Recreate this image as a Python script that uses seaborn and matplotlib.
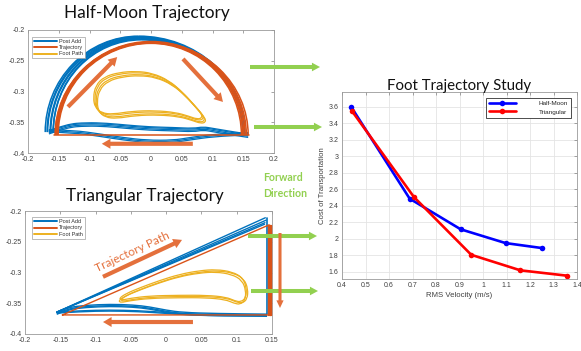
import numpy as np
import pandas as pd
import matplotlib
matplotlib.use("Agg")
import matplotlib.pyplot as plt
from matplotlib.path import Path
from matplotlib.patches import PathPatch, Arc
from matplotlib.ticker import FormatStrFormatter, MultipleLocator
import seaborn as sns

# ---------------- data ----------------
# Foot trajectory study: cost of transportation vs RMS velocity
hm_velocity = [0.439, 0.688, 0.905, 1.096, 1.253]
hm_cost = [3.60, 2.488, 2.117, 1.950, 1.889]
tri_velocity = [0.443, 0.706, 0.950, 1.159, 1.358]
tri_cost = [3.547, 2.508, 1.808, 1.620, 1.555]
series_names = ["Half-Moon", "Triangular"]

# Half-moon: commanded trajectory arcs (centre x, left radius, right radius, height)
hm_traj_cx = [0.000, 0.000, 0.000, 0.000, 0.000, 0.000]
hm_traj_rl = [0.151, 0.152, 0.153, 0.154, 0.155, 0.156]
hm_traj_rr = [0.147, 0.149, 0.151, 0.153, 0.155, 0.158]
hm_traj_ry = [0.149, 0.150, 0.150, 0.151, 0.152, 0.151]
hm_traj_base = -0.3707
hm_traj_bottom_x = [-0.157, 0.159]

# Half-moon: measured (post add) arcs
hm_post_cx = [-0.018, -0.017, -0.020, -0.016, -0.021, -0.019, -0.018]
hm_post_rl = [0.150, 0.146, 0.152, 0.143, 0.148, 0.145, 0.141]
hm_post_rr = [0.170, 0.168, 0.172, 0.166, 0.171, 0.169, 0.167]
hm_post_ry = [0.154, 0.152, 0.156, 0.150, 0.155, 0.153, 0.151]
hm_post_base = -0.366
# Half-moon: measured bottom strokes
hm_up_x = [-0.166, -0.137, -0.105, -0.072, -0.040, -0.002, 0.036, 0.069, 0.085, 0.101, 0.134, 0.158]
hm_up_y = [-0.365, -0.3545, -0.352, -0.353, -0.356, -0.359, -0.360, -0.3615, -0.3588, -0.3615, -0.367, -0.3707]
hm_up_dy = [0.000, -0.002, -0.004, 0.0015]
hm_lo_x = [-0.166, -0.126, -0.083, -0.045, -0.007, 0.036, 0.063, 0.101, 0.158]
hm_lo_y = [-0.366, -0.367, -0.373, -0.3789, -0.3832, -0.3832, -0.3789, -0.3734, -0.3707]
hm_lo_dy = [0.000, 0.002, 0.004]
# Half-moon: foot path loop
hm_foot_x = [-0.092, -0.088, -0.074, -0.050, -0.023, 0.004, 0.031, 0.053, 0.072, 0.084,
             0.085, 0.077, 0.063, 0.042, 0.009, -0.029, -0.060, -0.078, -0.089]
hm_foot_y = [-0.312, -0.292, -0.278, -0.271, -0.269, -0.272, -0.284, -0.303, -0.324, -0.338,
             -0.345, -0.347, -0.342, -0.336, -0.333, -0.334, -0.339, -0.337, -0.328]
hm_foot_dx = [0.000, 0.002, 0.004, -0.002]
hm_foot_dy = [0.000, -0.003, -0.005, 0.002]

# Triangular: commanded trajectory
tri_traj_x = [-0.147, 0.146, 0.146, -0.147]
tri_traj_y = [-0.369, -0.2225, -0.369, -0.369]
tri_traj_right_x = [0.1445, 0.1455, 0.1465, 0.1475, 0.1485]
# Triangular: measured hypotenuse tops
tri_post_left = (-0.155, -0.3645)
tri_post_top_x = [0.1405, 0.1415, 0.1400, 0.1395]
tri_post_top_y = [-0.2110, -0.2150, -0.2190, -0.2215]
tri_post_right_x = 0.1425
# Triangular: measured bottom strokes
tri_up_x = [-0.155, -0.141, -0.113, -0.080, -0.047, -0.023, 0.000, 0.024, 0.071, 0.143]
tri_up_y = [-0.3645, -0.357, -0.3532, -0.3516, -0.3527, -0.3559, -0.3613, -0.365, -0.3667, -0.3677]
tri_up_dy = [0.000, -0.002, -0.0035]
tri_lo_x = [-0.155, -0.120, -0.080, -0.040, 0.000, 0.040, 0.080, 0.143]
tri_lo_y = [-0.3645, -0.362, -0.361, -0.362, -0.365, -0.368, -0.369, -0.369]
tri_lo_dy = [0.000, -0.0015]
# Triangular: foot path loop
tri_foot_x = [-0.0667, -0.0563, -0.0375, -0.0092, 0.019, 0.047, 0.071, 0.094, 0.1086, 0.114,
              0.113, 0.106, 0.097, 0.085, 0.057, 0.019, -0.023, -0.051, -0.063]
tri_foot_y = [-0.342, -0.334, -0.325, -0.313, -0.303, -0.297, -0.295, -0.299, -0.3086, -0.325,
              -0.341, -0.348, -0.346, -0.340, -0.337, -0.337, -0.338, -0.342, -0.345]
tri_foot_dx = [0.000, 0.002, -0.001]
tri_foot_dy = [0.000, -0.002, -0.004]

legend_labels = ["Post Add", "Trajectory", "Foot Path"]

# ---------------- style ----------------
sns.set_style("white")
plt.rcParams["font.family"] = ["Liberation Sans", "DejaVu Sans"]

BLUE = "#0072BD"
ORANGE = "#D95319"
YELLOW = "#EDB120"
ARROW_OR = "#E4703C"
GREEN = "#92D050"
TXT = "#404040"
SPINE = "#9a9a9a"

W, H = 581, 351
fig = plt.figure(figsize=(W / 100, H / 100), dpi=100)


def px_axes(left, top, right, bottom):
    return fig.add_axes([left / W, 1 - bottom / H, (right - left) / W, (bottom - top) / H])


def smooth_path(xs, ys, closed=False):
    pts = np.column_stack([xs, ys])
    n = len(pts)
    if closed:
        mids = (pts + np.roll(pts, -1, axis=0)) / 2
        verts = [mids[-1]]
        codes = [Path.MOVETO]
        for i in range(n):
            verts += [pts[i], mids[i]]
            codes += [Path.CURVE3, Path.CURVE3]
    else:
        verts = [pts[0]]
        codes = [Path.MOVETO]
        for i in range(1, n - 1):
            verts += [pts[i], (pts[i] + pts[i + 1]) / 2]
            codes += [Path.CURVE3, Path.CURVE3]
        verts.append(pts[-1])
        codes.append(Path.LINETO)
    return Path(verts, codes)


def add_curve(ax, xs, ys, color, lw, closed=False, z=2):
    ax.add_patch(PathPatch(smooth_path(xs, ys, closed), fill=False, ec=color, lw=lw, zorder=z))


def style_matlab(ax):
    for s in ax.spines.values():
        s.set_color(SPINE)
        s.set_linewidth(0.6)
    ax.tick_params(direction="in", length=2.5, width=0.5, color="#808080",
                   top=True, right=True, labelsize=5.0, labelcolor=TXT, pad=2.5)
    ax.xaxis.set_major_formatter(FormatStrFormatter("%g"))
    ax.yaxis.set_major_formatter(FormatStrFormatter("%g"))


def arrow(ax, start, end, color, tail=0.30, hw=0.72, hl=0.62, z=6):
    ax.annotate("", xy=end, xytext=start, zorder=z,
                arrowprops=dict(arrowstyle=f"simple,head_length={hl},head_width={hw},tail_width={tail}",
                                fc=color, ec="none", lw=0, shrinkA=0, shrinkB=0, mutation_scale=10))


def path_legend(ax, anchor):
    handles = [plt.Line2D([], [], color=c, lw=1.4) for c in (BLUE, ORANGE, YELLOW)]
    leg = ax.legend(handles, legend_labels, loc="upper left", bbox_to_anchor=anchor,
                    fontsize=4.0, handlelength=4.2, handletextpad=0.3, labelspacing=0.25,
                    borderpad=0.35, borderaxespad=0, fancybox=False, framealpha=1,
                    edgecolor="#a0a0a0")
    leg.get_frame().set_linewidth(0.5)
    for t in leg.get_texts():
        t.set_color("#303030")


# ---------------- half-moon panel ----------------
ax1 = px_axes(28, 30, 274, 153)
style_matlab(ax1)
ax1.set_xlim(-0.2, 0.2)
ax1.set_ylim(-0.4, -0.2)
ax1.xaxis.set_major_locator(MultipleLocator(0.05))
ax1.yaxis.set_major_locator(MultipleLocator(0.05))

for cx, rl, rr, ry in zip(hm_post_cx, hm_post_rl, hm_post_rr, hm_post_ry):
    ax1.add_patch(Arc((cx, hm_post_base), 2 * rl, 2 * ry, theta1=90, theta2=180, ec=BLUE, lw=1.1, zorder=2))
    ax1.add_patch(Arc((cx, hm_post_base), 2 * rr, 2 * ry, theta1=0, theta2=90, ec=BLUE, lw=1.1, zorder=2))
for dy in hm_up_dy:
    add_curve(ax1, hm_up_x, np.array(hm_up_y) + dy, BLUE, 0.9)
for dy in hm_lo_dy:
    add_curve(ax1, hm_lo_x, np.array(hm_lo_y) + dy, BLUE, 0.9)
for cx, rl, rr, ry in zip(hm_traj_cx, hm_traj_rl, hm_traj_rr, hm_traj_ry):
    ax1.add_patch(Arc((cx, hm_traj_base), 2 * rl, 2 * ry, theta1=90, theta2=180, ec=ORANGE, lw=1.1, zorder=3))
    ax1.add_patch(Arc((cx, hm_traj_base), 2 * rr, 2 * ry, theta1=0, theta2=90, ec=ORANGE, lw=1.1, zorder=3))
ax1.plot(hm_traj_bottom_x, [hm_traj_base, hm_traj_base], color=ORANGE, lw=1.1, zorder=3)
for dx, dy in zip(hm_foot_dx, hm_foot_dy):
    add_curve(ax1, np.array(hm_foot_x) + dx, np.array(hm_foot_y) + dy, YELLOW, 0.9, closed=True, z=4)

arrow(ax1, (-0.135, -0.325), (-0.055, -0.244), ARROW_OR)
arrow(ax1, (0.052, -0.247), (0.117, -0.317), ARROW_OR)
arrow(ax1, (0.068, -0.385), (-0.080, -0.385), ARROW_OR)
path_legend(ax1, (0.016, 0.945))

# ---------------- triangular panel ----------------
ax2 = px_axes(25, 211, 272, 334)
style_matlab(ax2)
ax2.set_xlim(-0.2, 0.15)
ax2.set_ylim(-0.4, -0.2)
ax2.xaxis.set_major_locator(MultipleLocator(0.05))
ax2.yaxis.set_major_locator(MultipleLocator(0.05))

for tx, ty in zip(tri_post_top_x, tri_post_top_y):
    ax2.plot([tri_post_left[0], tx], [tri_post_left[1], ty], color=BLUE, lw=1.0, zorder=2)
ax2.plot([tri_post_right_x, tri_post_right_x], [tri_post_top_y[0], -0.368], color=BLUE, lw=1.2, zorder=2)
for dy in tri_up_dy:
    add_curve(ax2, tri_up_x, np.array(tri_up_y) + dy, BLUE, 1.0)
for dy in tri_lo_dy:
    add_curve(ax2, tri_lo_x, np.array(tri_lo_y) + dy, BLUE, 1.0)
ax2.plot(tri_traj_x, tri_traj_y, color=ORANGE, lw=1.0, zorder=3)
for rx in tri_traj_right_x:
    ax2.plot([rx, rx], [tri_traj_y[1], tri_traj_y[2]], color=ORANGE, lw=1.0, zorder=3, clip_on=False)
for dx, dy in zip(tri_foot_dx, tri_foot_dy):
    add_curve(ax2, np.array(tri_foot_x) + dx, np.array(tri_foot_y) + dy, YELLOW, 0.9, closed=True, z=4)

arrow(ax2, (-0.0895, -0.307), (0.0225, -0.247), ARROW_OR)
arrow(ax2, (0.038, -0.3805), (-0.0895, -0.3805), ARROW_OR)
ax2.text(-0.048, -0.266, "Trajectory Path", color=ARROW_OR, fontsize=8.6, rotation=25,
         ha="center", va="center", family=["Lato", "DejaVu Sans"], zorder=6)
path_legend(ax2, (0.028, 0.95))

# ---------------- study panel ----------------
ax3 = px_axes(342, 92, 577, 279)
df = pd.DataFrame({
    "RMS Velocity (m/s)": hm_velocity + tri_velocity,
    "Cost of Transportation": hm_cost + tri_cost,
    "Shape": [series_names[0]] * len(hm_velocity) + [series_names[1]] * len(tri_velocity),
})
sns.lineplot(data=df, x="RMS Velocity (m/s)", y="Cost of Transportation", hue="Shape",
             palette={series_names[0]: "#0000ff", series_names[1]: "#ff0000"},
             marker="o", markersize=4, markeredgewidth=0, linewidth=1.9, sort=False, ax=ax3)
style_matlab(ax3)
ax3.set_xlim(0.4, 1.4)
ax3.set_ylim(1.515, 3.78)
ax3.xaxis.set_major_locator(MultipleLocator(0.1))
ax3.set_yticks([1.6, 1.8, 2.0, 2.2, 2.4, 2.6, 2.8, 3.0, 3.2, 3.4, 3.6])
ax3.grid(True, color="#e4e4e4", lw=0.6)
ax3.set_axisbelow(True)
ax3.set_xlabel("RMS Velocity (m/s)", fontsize=5.6, color=TXT, labelpad=2)
ax3.set_ylabel("Cost of Transportation", fontsize=5.6, color=TXT, labelpad=2)
sns.move_legend(ax3, "upper right", bbox_to_anchor=(0.975, 0.968), title=None, fontsize=4.6,
                handlelength=4.2, handletextpad=3.6, labelspacing=0.45, borderpad=0.45,
                borderaxespad=0, fancybox=False, framealpha=1, edgecolor="#303030")
ax3.get_legend().get_frame().set_linewidth(0.6)

# ---------------- titles and annotations ----------------
TITLE_FONT = ["Lato", "DejaVu Sans"]
fig.text(147 / W, 1 - 18 / H, "Half-Moon Trajectory", ha="center", va="baseline",
         fontsize=12.4, family=TITLE_FONT, color="#111111")
fig.text(145 / W, 1 - 201 / H, "Triangular Trajectory", ha="center", va="baseline",
         fontsize=12.3, family=TITLE_FONT, color="#111111")
fig.text(459 / W, 1 - 90 / H, "Foot Trajectory Study", ha="center", va="baseline",
         fontsize=10.8, family=TITLE_FONT, color="#111111")
fig.text(263 / W, 1 - 181 / H, "Forward", ha="left", va="baseline", fontsize=7.6,
         family=TITLE_FONT, weight="bold", color=GREEN)
fig.text(263 / W, 1 - 197 / H, "Direction", ha="left", va="baseline", fontsize=7.6,
         family=TITLE_FONT, weight="bold", color=GREEN)

over = fig.add_axes([0, 0, 1, 1], zorder=10)
over.set_xlim(0, W)
over.set_ylim(H, 0)
over.axis("off")
over.patch.set_alpha(0)
for (x0, y0, x1, y1) in [(250, 67, 320, 67), (254, 127, 322, 127),
                         (248, 236, 317, 236), (251, 291, 318, 291)]:
    arrow(over, (x0, y0), (x1, y1), GREEN, tail=0.29, hw=0.62, hl=0.58)
arrow(over, (280, 233), (280, 308), ARROW_OR, tail=0.22, hw=0.52, hl=0.55)

fig.savefig("out.png", dpi=100)
